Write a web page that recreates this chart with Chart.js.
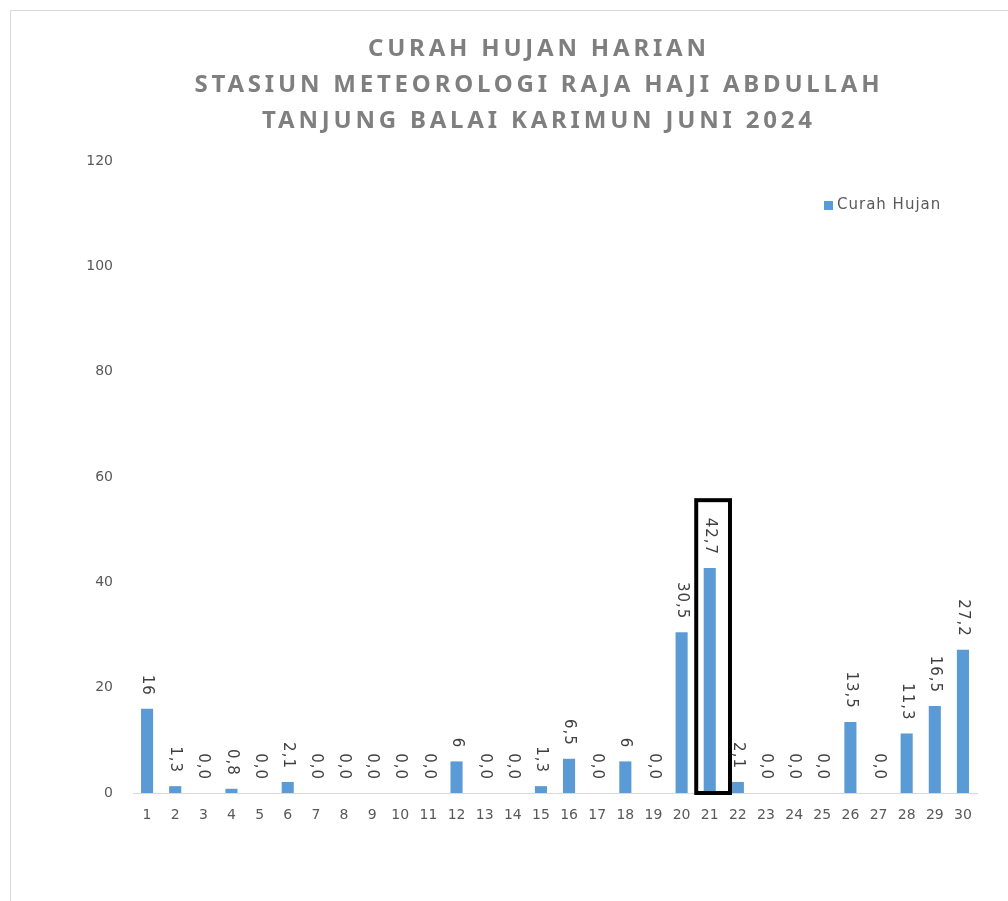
<!DOCTYPE html>
<html>
<head>
<meta charset="utf-8">
<script src="https://cdn.jsdelivr.net/npm/chart.js@4.4.1/dist/chart.umd.min.js"></script>
<style>
  html, body { margin: 0; padding: 0; background: #ffffff; }
  #wrap { position: relative; width: 1008px; height: 901px; }
  #frame { position: absolute; left: 10px; top: 10px; width: 1010px; height: 900px; border: 1px solid #d9d9d9; box-sizing: border-box; }
</style>
</head>
<body>
<div id="wrap">
  <div id="frame"></div>
  <canvas id="rain-chart" width="1008" height="901"></canvas>
</div>
<script>
// Data series
const days = ['1','2','3','4','5','6','7','8','9','10','11','12','13','14','15',
              '16','17','18','19','20','21','22','23','24','25','26','27','28','29','30'];
const rainfall = [16, 1.3, 0, 0.8, 0, 2.1, 0, 0, 0, 0, 0, 6, 0, 0, 1.3,
                  6.5, 0, 6, 0, 30.5, 42.7, 2.1, 0, 0, 0, 13.5, 0, 11.3, 16.5, 27.2];
const valueLabels = ['16','1,3','0,0','0,8','0,0','2,1','0,0','0,0','0,0','0,0','0,0','6','0,0','0,0','1,3',
                     '6,5','0,0','6','0,0','30,5','42,7','2,1','0,0','0,0','0,0','13,5','0,0','11,3','16,5','27,2'];
const titleLines = ['CURAH HUJAN HARIAN', 'STASIUN METEOROLOGI RAJA HAJI ABDULLAH', 'TANJUNG BALAI KARIMUN JUNI 2024'];
const seriesName = 'Curah Hujan';
const highlightDay = '21';

const BAR_BLUE = '#5B9BD5';
const FONT = "'Noto Sans', sans-serif";
const NUM_FONT = "'DejaVu Sans', sans-serif";

// label nilai diputar 90 derajat di atas batang
const valueLabelPlugin = {
    id: 'valueLabels',
    afterDatasetsDraw(chart) {
        const ctx = chart.ctx;
        const meta = chart.getDatasetMeta(0);
        ctx.save();
        ctx.fillStyle = '#404040';
        ctx.font = '15px ' + NUM_FONT;
        ctx.letterSpacing = '1px';
        meta.data.forEach((bar, i) => {
            ctx.save();
            ctx.translate(bar.x, bar.y - 13);
            ctx.rotate(Math.PI / 2);
            ctx.textAlign = 'right';
            ctx.textBaseline = 'middle';
            ctx.fillText(valueLabels[i], 0, 0);
            ctx.restore();
        });
        ctx.restore();
    }
};

// kotak hitam penanda hari dengan hujan tertinggi
const highlightPlugin = {
    id: 'highlightBox',
    afterDraw(chart, args, opts) {
        const x = chart.scales.x, y = chart.scales.y;
        const idx = days.indexOf(opts.day);
        const step = x.getPixelForValue(1) - x.getPixelForValue(0);
        const cx = x.getPixelForValue(idx) + step * opts.shift;
        const half = step * opts.widthFactor / 2;
        const top = y.getPixelForValue(opts.yMax);
        const bottom = y.getPixelForValue(0);
        const ctx = chart.ctx;
        ctx.save();
        ctx.strokeStyle = '#000000';
        ctx.lineWidth = 4;
        ctx.strokeRect(cx - half, top, half * 2, bottom - top);
        ctx.restore();
    }
};

// judul dengan jarak huruf
const titlePlugin = {
    id: 'spacedTitle',
    afterDraw(chart, args, opts) {
        const ctx = chart.ctx;
        ctx.save();
        ctx.fillStyle = '#7f7f7f';
        ctx.font = 'bold 24px ' + FONT;
        ctx.letterSpacing = opts.spacing + 'px';
        ctx.textAlign = 'center';
        ctx.textBaseline = 'middle';
        titleLines.forEach((line, i) => {
            ctx.fillText(line, opts.centerX + opts.spacing / 2, opts.top + i * opts.lineHeight);
        });
        ctx.restore();
    }
};

// legenda di kanan atas
const legendPlugin = {
    id: 'cornerLegend',
    afterDraw(chart, args, opts) {
        const ctx = chart.ctx;
        ctx.save();
        ctx.fillStyle = BAR_BLUE;
        ctx.fillRect(opts.x, opts.y - 4, 9, 9);
        ctx.fillStyle = '#595959';
        ctx.font = '15px ' + NUM_FONT;
        ctx.letterSpacing = '1px';
        ctx.textBaseline = 'middle';
        ctx.fillText(seriesName, opts.x + 13, opts.y);
        ctx.restore();
    }
};

new Chart(document.getElementById('rain-chart'), {
    type: 'bar',
    data: {
        labels: days,
        datasets: [{
            label: seriesName,
            data: rainfall,
            backgroundColor: BAR_BLUE,
            borderWidth: 0,
            barPercentage: 0.43,
            categoryPercentage: 1.0
        }]
    },
    options: {
        responsive: false,
        animation: false,
        layout: { padding: { top: 161, right: 31, left: 0, bottom: 0 } },
        scales: {
            x: {
                grid: { display: false, drawTicks: false },
                border: { display: true, color: '#d9d9d9', width: 1 },
                ticks: { color: '#595959', font: { size: 14, family: NUM_FONT }, padding: 14, maxRotation: 0, autoSkip: false },
                afterFit(scale) { scale.height = 108; }
            },
            y: {
                min: 0,
                max: 120,
                grid: { display: false, drawTicks: false },
                border: { display: false },
                ticks: { stepSize: 20, color: '#595959', font: { size: 14, family: NUM_FONT }, padding: 20 },
                afterFit(scale) { scale.width = 133; }
            }
        },
        plugins: {
            legend: { display: false },
            tooltip: { enabled: false },
            highlightBox: { day: highlightDay, yMax: 55.6, widthFactor: 1.2, shift: 0.12 },
            spacedTitle: { centerX: 537, top: 49, lineHeight: 36, spacing: 3.8 },
            cornerLegend: { x: 824, y: 205 }
        }
    },
    plugins: [valueLabelPlugin, highlightPlugin, titlePlugin, legendPlugin]
});
</script>
</body>
</html>
